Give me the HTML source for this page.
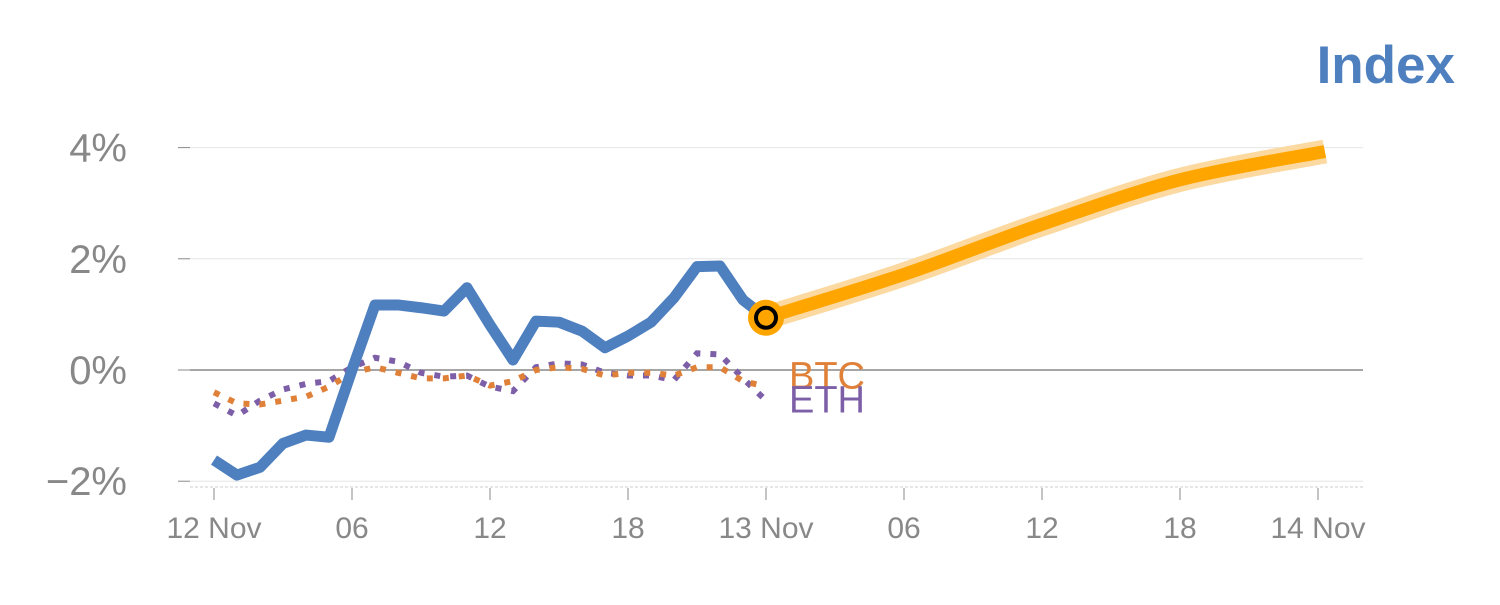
<!DOCTYPE html>
<html><head><meta charset="utf-8"><style>
body{margin:0;background:#fff;width:1500px;height:600px;overflow:hidden;font-family:"Liberation Sans",sans-serif}
</style></head><body>
<svg id="chart" width="1500" height="600" xmlns="http://www.w3.org/2000/svg">
<text x="1455" y="83" text-anchor="end" font-size="53" font-weight="bold" fill="#4e7fbf">Index</text>
<g id="grid"></g><g id="series"></g><g id="axes"></g>
</svg>
<script>
const xLabels=["12 Nov","06","12","18","13 Nov","06","12","18","14 Nov"];
const yTicks=[4,2,0,-2];
const indexVals=[-1.62,-1.89,-1.75,-1.32,-1.17,-1.21,0.0,1.17,1.17,1.12,1.06,1.48,0.81,0.18,0.88,0.86,0.70,0.40,0.61,0.86,1.30,1.86,1.87,1.26,0.94];
const btcVals=[-0.4,-0.6,-0.62,-0.55,-0.48,-0.3,-0.05,0.05,-0.05,-0.15,-0.15,-0.1,-0.28,-0.2,0.0,0.05,0.02,-0.1,-0.05,-0.05,-0.1,0.05,0.05,-0.2,-0.3];
const ethVals=[-0.6,-0.82,-0.55,-0.35,-0.25,-0.2,0.05,0.22,0.15,-0.05,-0.12,-0.1,-0.3,-0.38,0.05,0.12,0.1,-0.05,-0.1,-0.1,-0.18,0.3,0.28,-0.15,-0.55];
const forecastHours=[24,30,36,42,48.3];
const forecastVals=[0.94,1.72,2.62,3.42,3.93];
const NS="http://www.w3.org/2000/svg";
const x=h=>214+h*23, y=v=>370-v*55.6;
function mk(t,a,p){const e=document.createElementNS(NS,t);for(const k in a)e.setAttribute(k,a[k]);document.getElementById(p).appendChild(e);return e;}
yTicks.forEach(v=>{
 const g=mk('line',{x1:190,x2:1363,y1:y(v),y2:y(v),stroke:v===0?'#888':'#e6e6e6','stroke-width':v===0?1.5:1},'grid');
 
 
 const tk=mk('line',{x1:178,x2:190,y1:y(v),y2:y(v),stroke:'#888'},'axes');
 
 
 const t=mk('text',{x:127,y:y(v)+14,'text-anchor':'end','font-size':40,fill:'#888'},'axes');
 t.textContent=(v<0?'\u2212'+(-v):v)+'%';
 
 
});
const base=mk('line',{x1:190,x2:1363,y1:487,y2:487,stroke:'#ccc','stroke-dasharray':'3,2'},'axes');


xLabels.forEach((l,i)=>{
 const tk=mk('line',{x1:x(i*6),x2:x(i*6),y1:488,y2:500,stroke:'#888'},'axes');
 
 
 const t=mk('text',{x:x(i*6),y:538,'text-anchor':'middle','font-size':30,fill:'#888'},'axes');
 t.textContent=l;
 
 
});
function pts(vals){return vals.map((v,i)=>x(i)+','+y(v)).join(' ');}
const eth=mk('polyline',{points:pts(ethVals),fill:'none',stroke:'#7d5fa8','stroke-width':6,'stroke-dasharray':'6,10'},'series');


const btc=mk('polyline',{points:pts(btcVals),fill:'none',stroke:'#e0813a','stroke-width':6,'stroke-dasharray':'6,10'},'series');


const idx=mk('polyline',{points:pts(indexVals),fill:'none',stroke:'#4e7fbf','stroke-width':11,'stroke-linejoin':'round'},'series');


const fp=forecastHours.map((h,i)=>[x(h),y(forecastVals[i])]);
let d='M'+fp[0].join(',');
for(let i=0;i<fp.length-1;i++){const p0=fp[i-1]||fp[i],p1=fp[i],p2=fp[i+1],p3=fp[i+2]||p2;
 d+=` C${p1[0]+(p2[0]-p0[0])/6},${p1[1]+(p2[1]-p0[1])/6} ${p2[0]-(p3[0]-p1[0])/6},${p2[1]-(p3[1]-p1[1])/6} ${p2[0]},${p2[1]}`;}
const fb=mk('path',{d:d,fill:'none',stroke:'#fbd9a0','stroke-width':24},'series');


const fl=mk('path',{d:d,fill:'none',stroke:'#ffa500','stroke-width':13},'series');


const last=indexVals.length-1;
const c1=mk('circle',{cx:x(last),cy:y(indexVals[last]),r:18,fill:'#ffa500'},'series');


const c2=mk('circle',{cx:x(last),cy:y(indexVals[last]),r:10,fill:'#ffa500',stroke:'#000','stroke-width':4},'series');


const lb=mk('text',{x:789,y:y(btcVals[last])+2,'font-size':38,fill:'#e0813a'},'series');
lb.textContent='BTC';


const le=mk('text',{x:789,y:y(btcVals[last])+26,'font-size':38,fill:'#7d5fa8'},'series');
le.textContent='ETH';


</script>
</body></html>
